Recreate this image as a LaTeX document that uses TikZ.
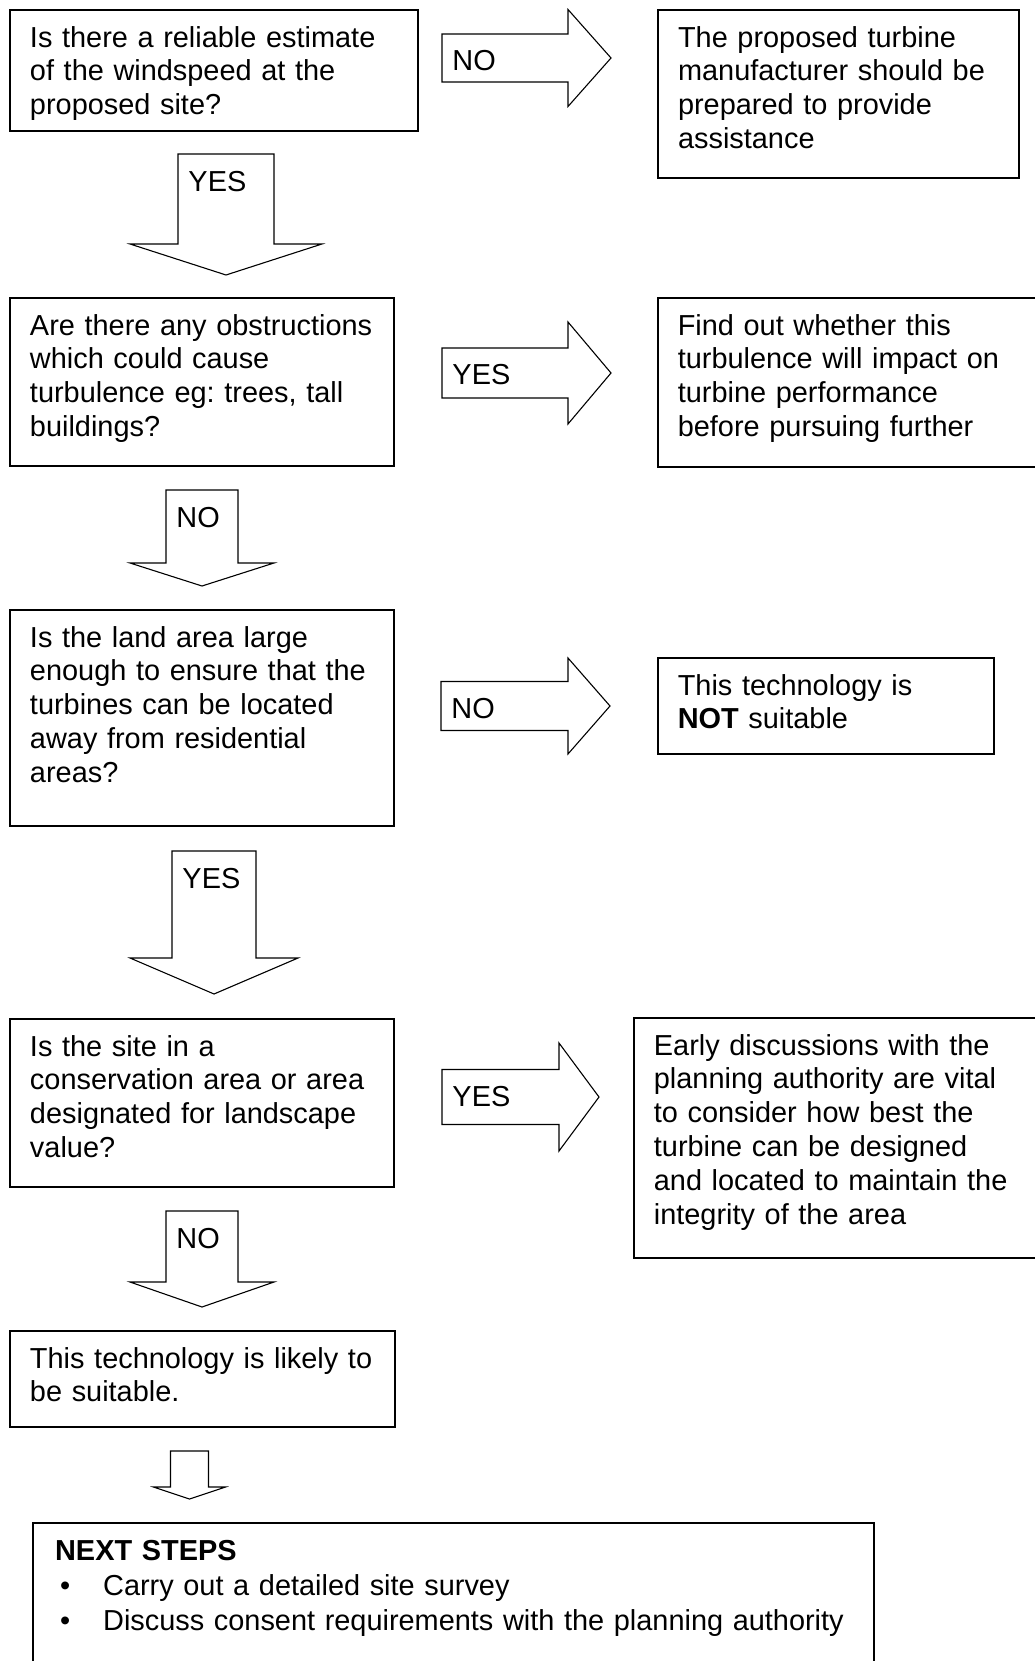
\documentclass[tikz,border=0pt]{standalone}
\usepackage{fontspec}
\setmainfont{Liberation Sans}
\usepackage{tikz}
\usetikzlibrary{positioning}

% block arrows, numbers in pixels of the page, y counted downwards
\newcommand{\dshape}[6]{%
  \draw[barrow] (#1-#3,-#2) -- (#1+#3,-#2) -- (#1+#3,-#4) -- (#1+#5,-#4) -- (#1,-#6) -- (#1-#5,-#4) -- (#1-#3,-#4) -- cycle;}
\newcommand{\dblock}[8]{%
  \dshape{#3}{#4}{#5}{#6}{#7}{#8}
  \node[lbl] (#1) at (#3-#5+10,-#4-37.5) {#2};}
\newcommand{\rblock}[8]{%
  \draw[barrow] (#3,-#4+#5) -- (#6,-#4+#5) -- (#6,-#4+#7) -- (#8,-#4) -- (#6,-#4-#7) -- (#6,-#4-#5) -- (#3,-#4-#5) -- cycle;
  \node[lbl] (#1) at (#3+10,-#4+#5-36.5) {#2};}

\begin{document}
\frenchspacing
\begin{tikzpicture}[x=0.41pt, y=0.41pt]

        \tikzstyle{block} = [draw, rectangle, line width=0.6pt, align=left, inner xsep=8.2pt, inner ysep=0pt, outer sep=0pt, text height=15.2pt, font=\fontsize{11.85}{13.86}\selectfont]
        \tikzstyle{barrow} = [draw, line width=0.45pt, line join=miter]
        \tikzstyle{lbl} = [anchor=base west, inner sep=0pt, font=\fontsize{11.85}{13.86}\selectfont]

        \useasboundingbox (0,0) rectangle (1034,-1661);

        \node [block, anchor=north west, text width=150.9pt, text depth=34.4pt] (q1) at (10,-10)
            {Is there a reliable estimate\\ of the windspeed at the\\ proposed site?};

        \node [block, right=98.4pt of q1.north east, anchor=north west, text width=131.6pt, text depth=53.7pt] (a1)
            {The proposed turbine\\ manufacturer should be\\ prepared to provide\\ assistance};

        \node [block, below=68.5pt of q1.south west, anchor=north west, text width=141pt, text depth=53.7pt] (q2)
            {Are there any obstructions\\ which could cause\\ turbulence eg: trees, tall\\ buildings?};

        \node [block, right=108.2pt of q2.north east, anchor=north west, text width=141.9pt, text depth=54.1pt] (a2)
            {Find out whether this\\ turbulence will impact on\\ turbine performance\\ before pursuing further};

        \node [block, below=59pt of q2.south west, anchor=north west, text width=141pt, text depth=73.4pt] (q3)
            {Is the land area large\\ enough to ensure that the\\ turbines can be located\\ away from residential\\ areas?};

        \node [block, right=108.2pt of q3.north east, anchor=north west, yshift=-19.7pt, text width=121.4pt, text depth=24.2pt] (a3)
            {This technology is\\ \textbf{NOT} suitable};

        \node [block, below=79.1pt of q3.south west, anchor=north west, text width=141pt, text depth=53.7pt] (q4)
            {Is the site in a\\ conservation area or area\\ designated for landscape\\ value?};

        \node [block, right=98.4pt of q4.north east, anchor=north west, yshift=0.4pt, text width=151.7pt, text depth=83.2pt] (a4)
            {Early discussions with the\\ planning authority are vital\\ to consider how best the\\ turbine can be designed\\ and located to maintain the\\ integrity of the area};

        \node [block, below=59pt of q4.south west, anchor=north west, text width=141.4pt, text depth=24.2pt] (ok)
            {This technology is likely to\\ be suitable.};

        \node [block, below=39.4pt of ok.south west, anchor=north west, xshift=9.4pt, inner xsep=9.1pt, text width=326.6pt, text depth=50.4pt, font=\fontsize{11.85}{14.5}\selectfont] (next)
            {\textbf{NEXT STEPS}\\
             \hspace*{2pt}\makebox[17.7pt][l]{\textbullet}Carry out a detailed site survey\\
             \hspace*{2pt}\makebox[17.7pt][l]{\textbullet}Discuss consent requirements with the planning authority};

        % sideways arrows
        \rblock{no1}{NO}{442}{58}{24}{568}{48.5}{611}
        \rblock{yes2}{YES}{442}{373}{25}{568}{51}{611}
        \rblock{no3}{NO}{441}{706}{24.5}{568}{48}{610}
        \rblock{yes4}{YES}{442}{1097}{27.5}{559}{54}{599}

        % downward arrows
        \dblock{yes1}{YES}{226}{154}{48}{244}{96}{275}
        \dblock{no2}{NO}{202}{490}{36}{563}{72}{586}
        \dblock{yes3}{YES}{214}{851}{42}{958}{84}{994}
        \dblock{no4}{NO}{202}{1211}{36}{1282}{72}{1307}
        \dshape{189.5}{1451}{19}{1487}{36}{1499}

    \end{tikzpicture}
\end{document}
